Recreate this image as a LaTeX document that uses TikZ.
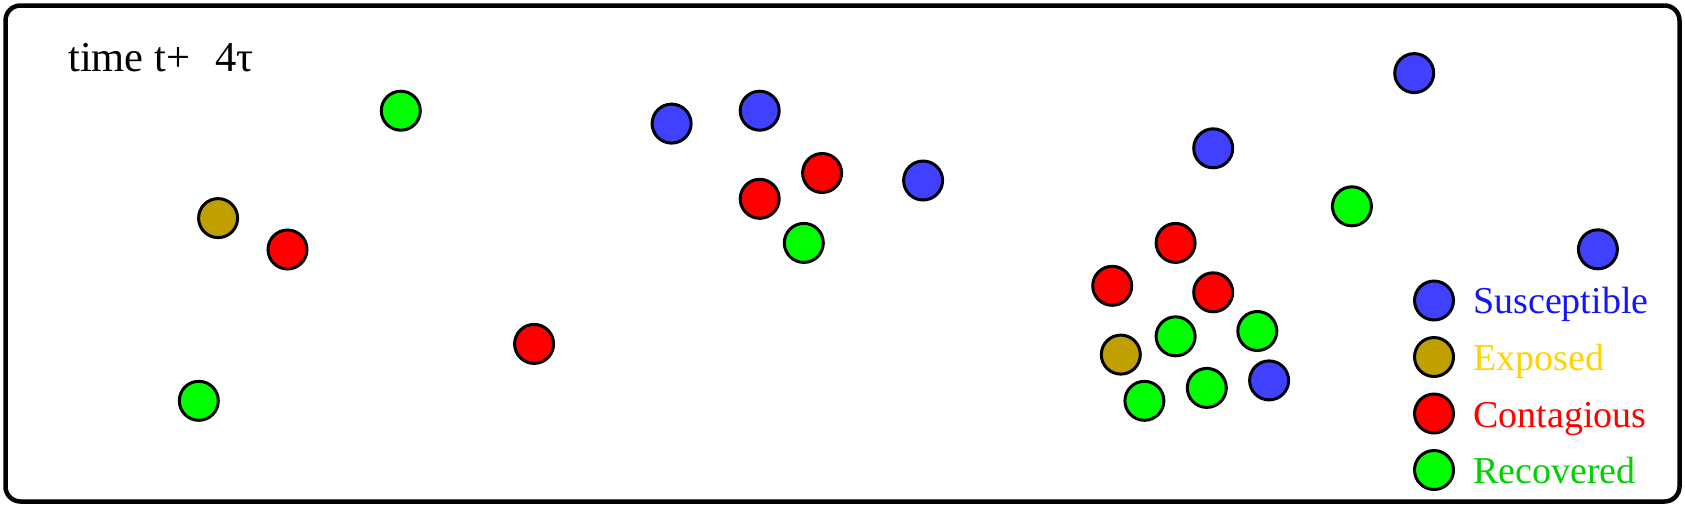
\documentclass[tikz,border=0pt]{standalone}
\usepackage{fontspec}
\setmainfont{Liberation Serif}
\definecolor{sus}{RGB}{64,64,255}
\definecolor{expo}{RGB}{192,160,0}
\definecolor{cont}{RGB}{255,0,0}
\definecolor{reco}{RGB}{0,255,0}
\definecolor{sustext}{RGB}{20,20,255}
\definecolor{expotext}{RGB}{255,210,0}
\definecolor{conttext}{RGB}{255,0,0}
\definecolor{recotext}{RGB}{0,210,0}
\tikzset{
  dot/.style={circle,draw=black,line width=3pt,minimum size=39pt,inner sep=0pt},
  S/.style={dot,fill=sus},
  E/.style={dot,fill=expo},
  C/.style={dot,fill=cont},
  R/.style={dot,fill=reco},
  lab/.style={anchor=base west,inner sep=0pt,font=\fontsize{38}{40}\selectfont}
}
\begin{document}
\begin{tikzpicture}[x=1pt,y=-1pt]
\useasboundingbox (0,0) rectangle (1685,507);
\draw[line width=4.5pt,rounded corners=15pt] (5.5,5.5) rectangle (1679.5,501.5);
\node[lab,font=\fontsize{42.5}{44}\selectfont] (title) at (68,71.5) {time t+\hspace{0.6em}4τ};
% particles
\node[R] (c1) at (400.8,110.7) {};
\node[E] (c2) at (218.1,218.1) {};
\node[C] (c3) at (287.5,249.5) {};
\node[R] (c4) at (198.8,400.8) {};
\node[C] (c5) at (534.1,343.9) {};
\node[S] (c6) at (671.6,123.6) {};
\node[S] (c7) at (759.7,110.7) {};
\node[C] (c8) at (822.1,173.0) {};
\node[C] (c9) at (759.7,198.8) {};
\node[R] (c10) at (803.8,242.9) {};
\node[S] (c11) at (923.1,180.5) {};
\node[S] (c12) at (1213.2,148.3) {};
\node[S] (c13) at (1414.2,73.1) {};
\node[R] (c14) at (1351.9,206.3) {};
\node[S] (c15) at (1597.9,249.3) {};
\node[C] (c16) at (1175.6,242.9) {};
\node[C] (c17) at (1112.2,285.8) {};
\node[C] (c18) at (1213.2,292.3) {};
\node[R] (c19) at (1175.6,336.3) {};
\node[R] (c20) at (1257.3,331.0) {};
\node[E] (c21) at (1120.8,354.6) {};
\node[R] (c22) at (1144.4,400.8) {};
\node[R] (c23) at (1206.8,387.9) {};
\node[S] (c24) at (1269.1,380.4) {};
% legend
\node[S] (l1) at (1434,300.5) {};
\node[E] (l2) at (1434,357) {};
\node[C] (l3) at (1434,413.5) {};
\node[R] (l4) at (1434,470) {};
\node[lab,text=sustext] (t1) at (1473,313) {Susceptible};
\node[lab,text=expotext] (t2) at (1473,370) {Exposed};
\node[lab,text=conttext] (t3) at (1473,427) {Contagious};
\node[lab,text=recotext] (t4) at (1473,483) {Recovered};
\end{tikzpicture}
\end{document}
